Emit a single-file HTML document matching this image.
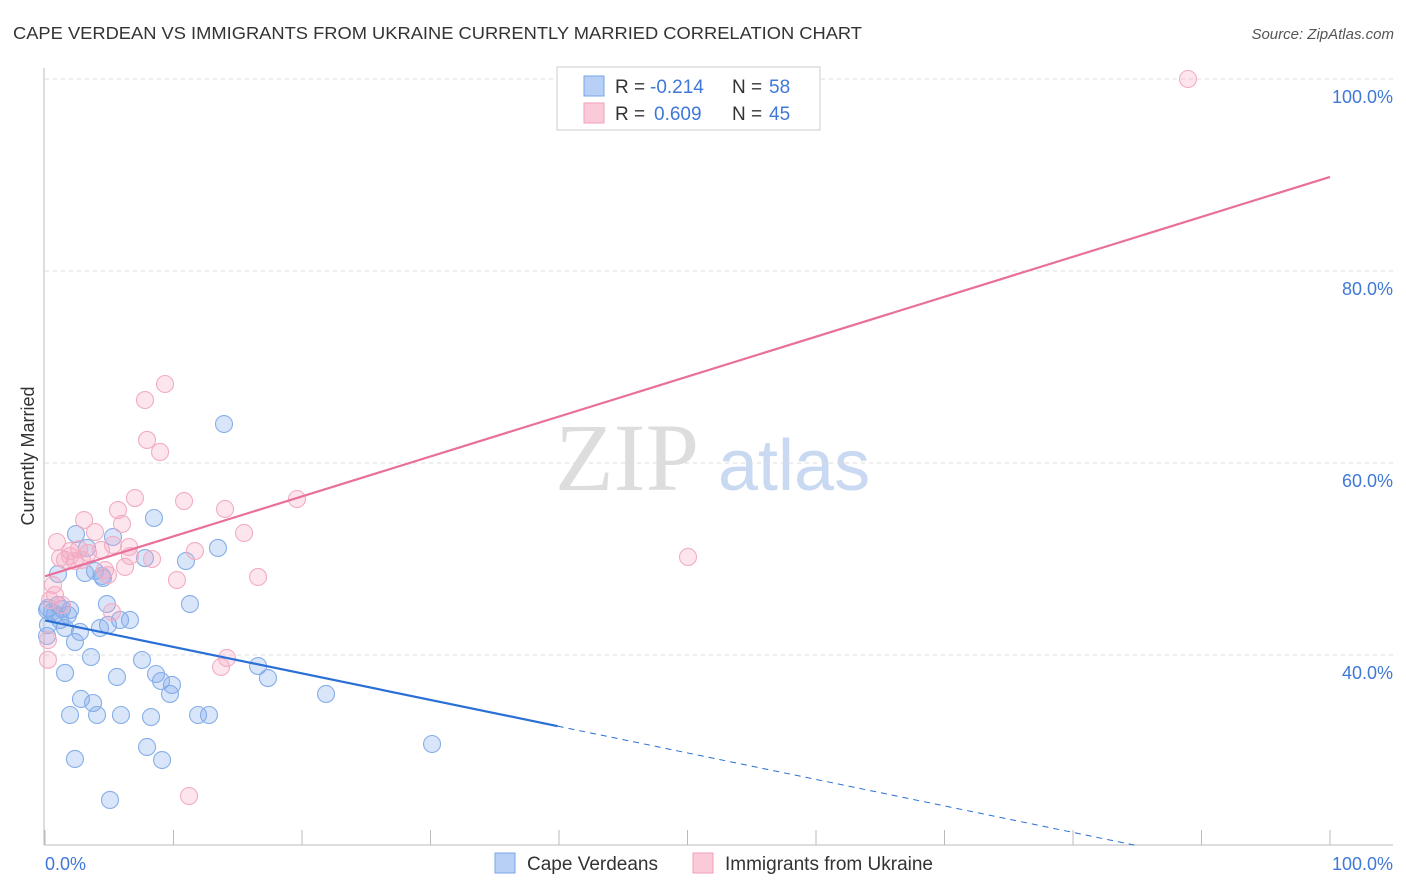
<!DOCTYPE html>
<html><head><meta charset="utf-8"><style>
body{margin:0;background:#fff;font-family:"Liberation Sans",sans-serif;}
svg{display:block}
</style></head><body>
<svg width="1406" height="892" id="chart">
<text x="13" y="39" font-size="17.5" fill="#333" textLength="849" lengthAdjust="spacingAndGlyphs">CAPE VERDEAN VS IMMIGRANTS FROM UKRAINE CURRENTLY MARRIED CORRELATION CHART</text>
<text x="1394" y="39" font-size="15" fill="#555" font-style="italic" text-anchor="end">Source: ZipAtlas.com</text>
<text x="555" y="490" font-size="96" fill="#ddd" font-family="Liberation Serif,serif">ZIP</text>
<text x="718" y="490" font-size="72" fill="#c9d9f2">atlas</text>
<g id="grid"></g>
<g id="axes"></g>
<g id="pts"></g>
<g id="lines"></g>
<text transform="translate(34,456) rotate(-90)" font-size="18" fill="#333" text-anchor="middle">Currently Married</text>
<g>
<rect x="557" y="67" width="263" height="63" fill="#fff" stroke="#ccc"/>
<rect x="584" y="76" width="20" height="20" fill="#b8d0f5" stroke="#7aa5e8"/>
<rect x="584" y="103" width="20" height="20" fill="#fbcad8" stroke="#f0a0b8"/>
<text x="615" y="93" font-size="19" fill="#333">R =</text>
<text x="650" y="93" font-size="19" fill="#3f78d8">-0.214</text>
<text x="732" y="93" font-size="19" fill="#333">N =</text>
<text x="769" y="93" font-size="19" fill="#3f78d8">58</text>
<text x="615" y="120" font-size="19" fill="#333">R =</text>
<text x="654" y="120" font-size="19" fill="#3f78d8">0.609</text>
<text x="732" y="120" font-size="19" fill="#333">N =</text>
<text x="769" y="120" font-size="19" fill="#3f78d8">45</text>
</g>
<g>
<rect x="495" y="853" width="20" height="20" fill="#b8d0f5" stroke="#7aa5e8"/>
<text x="527" y="870" font-size="19" fill="#333">Cape Verdeans</text>
<rect x="693" y="853" width="20" height="20" fill="#fbcad8" stroke="#f0a0b8"/>
<text x="725" y="870" font-size="19" fill="#333">Immigrants from Ukraine</text>
</g>
</svg>
<script>
const blueX=[13.93,8.48,2.41,5.29,3.27,7.78,10.97,13.46,1.01,3.11,3.89,4.51,4.82,11.28,0.23,1.32,1.95,0.78,1.79,1.17,5.84,6.61,4.9,4.28,1.56,2.72,0.16,2.33,3.58,7.55,16.58,1.56,5.6,8.64,17.35,9.03,9.88,9.73,21.87,2.8,3.74,1.95,4.05,5.91,8.25,11.91,12.76,7.94,30.12,2.33,9.11,5.06,0.54,1.01,0.16,4.44,0.23];
const blueY=[64.06,54.27,52.6,52.29,51.15,50.1,49.79,51.15,48.44,48.54,48.75,48.02,45.31,45.31,44.9,44.79,44.69,44.27,44.17,43.65,43.65,43.65,43.13,42.81,42.81,42.4,41.98,41.35,39.79,39.48,38.85,38.13,37.71,38.02,37.6,37.29,36.88,35.94,35.94,35.42,35.0,33.75,33.75,33.75,33.54,33.75,33.75,30.42,30.73,29.17,29.06,24.9,44.48,45.21,44.69,48.23,43.13];
const pinkX=[88.95,9.34,7.78,7.94,8.95,7.0,10.82,19.61,14.01,5.68,3.04,5.99,3.89,15.49,0.93,5.29,6.54,2.65,1.95,4.36,3.35,1.17,1.56,2.33,11.67,8.33,50.04,6.61,4.67,6.23,4.9,10.27,16.58,0.62,0.78,0.39,0.23,5.21,14.16,13.7,11.21,1.95,2.88,1.32,0.23];
const pinkY=[100,68.23,66.56,62.4,61.15,56.35,56.04,56.25,55.21,55.1,54.06,53.65,52.81,52.71,51.77,51.46,51.25,51.04,50.83,50.94,50.63,50.1,49.9,49.79,50.83,50.0,50.21,50.31,48.85,49.17,48.33,47.81,48.13,47.29,46.25,45.73,41.56,44.48,39.69,38.75,25.31,50.31,49.9,45.21,39.5];
const yTicks=[40,60,80,100];
const yTickLabels=["40.0%","60.0%","80.0%","100.0%"];
const pinkTrend=[48.2,89.8];
const blueTrend=[43.6,16.0];
const blueSolidEnd=39.9;

const NS="http://www.w3.org/2000/svg";
const X=v=>45+v*12.85, Y=v=>79+(100-v)*9.6;
function mk(tag,attrs,parent){const e=document.createElementNS(NS,tag);for(const k in attrs)e.setAttribute(k,attrs[k]);document.getElementById(parent).appendChild(e);return e;}
yTicks.forEach((t,i)=>{
  const g=mk('line',{x1:45,x2:1393,y1:Y(t),y2:Y(t),stroke:'#ddd','stroke-dasharray':'4,4'},'grid');
  
  
  const l=mk('text',{x:1393,y:Y(t)+24,'font-size':18,fill:'#3f78d8','text-anchor':'end'},'grid');
  l.textContent=yTickLabels[i];
  
  
});
mk('line',{x1:44,x2:44,y1:68,y2:845,stroke:'#bbb'},'axes');
mk('line',{x1:44,x2:1393,y1:845,y2:845,stroke:'#bbb'},'axes');
for(let i=0;i<=10;i++){mk('line',{x1:X(i*10),x2:X(i*10),y1:830,y2:845,stroke:'#bbb'},'axes');}
const x0=mk('text',{x:45,y:870,'font-size':18,fill:'#3f78d8'},'axes');x0.textContent='0.0%';


const x1=mk('text',{x:1393,y:870,'font-size':18,fill:'#3f78d8','text-anchor':'end'},'axes');x1.textContent='100.0%';


blueX.forEach((v,i)=>{
  const c=mk('circle',{cx:X(v),cy:Y(blueY[i]),r:8.5,fill:'rgba(130,170,235,0.3)',stroke:'#86aee8','stroke-width':1.1},'pts');
  
  
});
pinkX.forEach((v,i)=>{
  const c=mk('circle',{cx:X(v),cy:Y(pinkY[i]),r:8.5,fill:'rgba(245,170,195,0.3)',stroke:'#f2adc2','stroke-width':1.1},'pts');
  
  
});
const pl=mk('line',{x1:X(0),y1:Y(pinkTrend[0]),x2:X(100),y2:Y(pinkTrend[1]),stroke:'#e8709a','stroke-width':2.2},'lines');


const bAt=x=>blueTrend[0]+(blueTrend[1]-blueTrend[0])*x/100;
const bl=mk('line',{x1:X(0),y1:Y(bAt(0)),x2:X(blueSolidEnd),y2:Y(bAt(blueSolidEnd)),stroke:'#2a6fd6','stroke-width':2.2},'lines');


const yMin=20.2, xEnd=Math.min(100,(yMin-blueTrend[0])/(blueTrend[1]-blueTrend[0])*100);
const bd=mk('line',{x1:X(blueSolidEnd),y1:Y(bAt(blueSolidEnd)),x2:X(xEnd),y2:Y(bAt(xEnd)),stroke:'#2a6fd6','stroke-width':1,'stroke-dasharray':'6,5'},'lines');


</script>
</body></html>
